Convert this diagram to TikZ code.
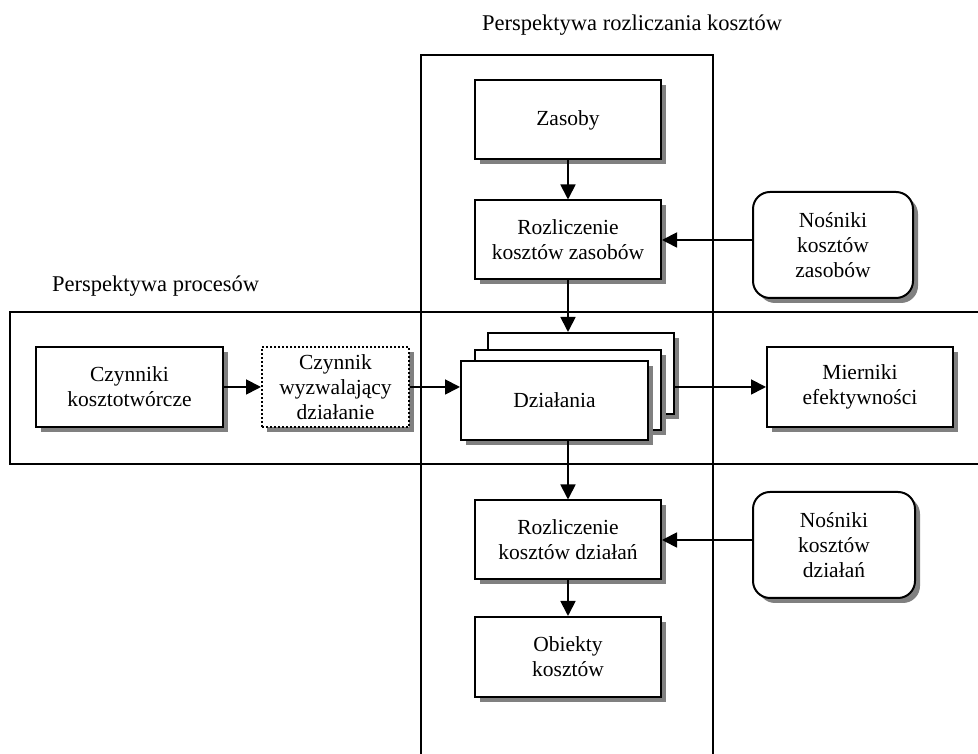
\documentclass[tikz,border=0pt]{standalone}
\usepackage{fontspec}
\setmainfont{Liberation Serif}
\usetikzlibrary{shadows,arrows.meta}
\begin{document}
\begin{tikzpicture}[x=1pt,y=1pt,
  font=\fontsize{21.5}{25}\selectfont,
  frame/.style={line width=1.5pt},
  boxbase/.style={draw, line width=2pt, fill=white, align=center, inner sep=0pt,
     drop shadow={shadow xshift=5pt, shadow yshift=-5pt, fill=gray, opacity=1}},
  box/.style={boxbase, minimum width=186pt, minimum height=79pt},
  rbox/.style={boxbase, rounded corners=17pt, minimum width=160pt, minimum height=106pt},
  dbox/.style={boxbase, dotted, minimum width=147pt, minimum height=80pt},
  arr/.style={line width=1.8pt, -{Triangle[length=15pt,width=15pt]}},
  ttl/.style={font=\fontsize{22.5}{26}\selectfont, inner sep=0pt, anchor=base west}]
\useasboundingbox (0,0) rectangle (978,754);
% frames
\draw[frame] (421,-2) -- (421,699) -- (713,699) -- (713,-2);
\draw[frame] (980,442) -- (10,442) -- (10,290) -- (980,290);
\node[ttl] (t1) at (482,723) {Perspektywa rozliczania kosztów};
\node[ttl] (t2) at (52,462) {Perspektywa procesów};
% nodes
\node[box] (zas) at (568,634) {Zasoby};
\node[box] (rkz) at (568,514) {Rozliczenie\\kosztów zasobów};
\node[rbox] (nkz) at (833,509) {Nośniki\\kosztów\\zasobów};
\node[box, minimum height=81pt] (dz3) at (581,380.5) {};
\node[box, minimum height=80pt] (dz2) at (567.5,364) {};
\node[box, minimum width=187pt] (dz1) at (554.5,353.5) {Działania};
\node[box, minimum width=187pt, minimum height=80pt] (ck) at (129.5,367) {Czynniki\\kosztotwórcze};
\node[dbox] (cwd) at (335.5,367) {Czynnik\\wyzwalający\\działanie};
\node[box, minimum height=80pt] (mier) at (860,367) {Mierniki\\efektywności};
\node[box] (rkd) at (568,214) {Rozliczenie\\kosztów działań};
\node[rbox, minimum width=162pt] (nkd) at (834,209) {Nośniki\\kosztów\\działań};
\node[box, minimum height=80pt] (ob) at (568,97) {Obiekty\\kosztów};
% connectors
\draw[arr] (zas.south) -- (rkz.north);
\draw[arr] (nkz.west |- rkz.east) -- (rkz.east);
\draw[arr] (rkz.south) -- (rkz.south |- dz3.north);
\draw[arr] (ck.east) -- (cwd.west);
\draw[arr] (cwd.east) -- (cwd.east -| dz1.west);
\draw[arr] (dz3.east |- mier.west) -- (mier.west);
\draw[arr] (rkd.north |- dz1.south) -- (rkd.north);
\draw[arr] (nkd.west |- rkd.east) -- (rkd.east);
\draw[arr] (rkd.south) -- (ob.north);
\end{tikzpicture}
\end{document}
